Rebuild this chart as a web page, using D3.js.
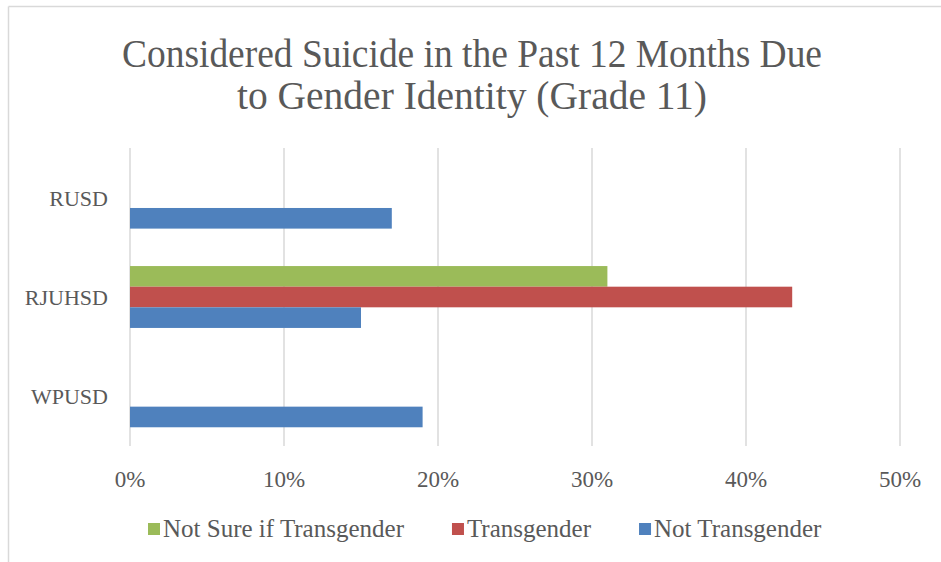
<!DOCTYPE html>
<html>
<head>
<meta charset="utf-8">
<script src="https://cdn.jsdelivr.net/npm/d3@7"></script>
<style>
  html, body { margin: 0; padding: 0; background: #fff; }
  svg { display: block; }
  text { font-family: "Liberation Serif", "DejaVu Serif", serif; fill: #595959; }
</style>
</head>
<body>
<svg id="chart" width="941" height="562"></svg>
<script>
// data
const districts = ['RUSD', 'RJUHSD', 'WPUSD'];
const seriesNames = ['Not Sure if Transgender', 'Transgender', 'Not Transgender'];
const notSure = [null, 31, null];
const transgender = [null, 43, null];
const notTransgender = [17, 15, 19];
const xTicks = [0, 10, 20, 30, 40, 50];
const titleLines = ['Considered Suicide in the Past 12 Months Due', 'to Gender Identity (Grade 11)'];

const colors = ['#9BBB59', '#C0504D', '#4F81BD'];
const values = [notSure, transgender, notTransgender];

const W = 941, H = 562;
const plot = { left: 130, right: 900, top: 148, bottom: 446 };

const svg = d3.select('#chart');

// outer chart frame (only top + left edges visible)
svg.append('line').attr('x1', 8.5).attr('x2', W).attr('y1', 6.5).attr('y2', 6.5)
  .attr('stroke', '#d9d9d9').attr('stroke-width', 1.5);
svg.append('line').attr('x1', 8.5).attr('x2', 8.5).attr('y1', 6.5).attr('y2', H)
  .attr('stroke', '#d9d9d9').attr('stroke-width', 1.5);

// title - the original face is a narrow serif, so squeeze to its width
const titleWidths = [700, 470];
svg.selectAll('text.title')
  .data(titleLines)
  .enter().append('text')
  .attr('class', 'title')
  .attr('x', 472)
  .attr('y', (d, i) => 67 + i * 42)
  .attr('text-anchor', 'middle')
  .attr('font-size', 41)
  .attr('textLength', (d, i) => titleWidths[i])
  .attr('lengthAdjust', 'spacingAndGlyphs')
  .text(d => d);

const x = d3.scaleLinear().domain([0, 50]).range([plot.left, plot.right]);

const y0 = d3.scaleBand()
  .domain(districts)
  .range([plot.top, plot.bottom])
  .paddingInner(0.377)
  .paddingOuter(0.377 / 2);

const y1 = d3.scaleBand()
  .domain(seriesNames)
  .range([0, y0.bandwidth()]);

// vertical gridlines
svg.append('g')
  .selectAll('line')
  .data(xTicks)
  .enter().append('line')
  .attr('x1', d => x(d)).attr('x2', d => x(d))
  .attr('y1', plot.top).attr('y2', plot.bottom)
  .attr('stroke', '#d9d9d9')
  .attr('stroke-width', 1.5);

// bars
const rows = [];
districts.forEach((dist, i) => {
  seriesNames.forEach((s, j) => {
    if (values[j][i] != null) rows.push({ dist, s, v: values[j][i], c: colors[j] });
  });
});

svg.append('g')
  .selectAll('rect')
  .data(rows)
  .enter().append('rect')
  .attr('x', x(0))
  .attr('y', d => y0(d.dist) + y1(d.s))
  .attr('width', d => x(d.v) - x(0))
  .attr('height', y1.bandwidth())
  .attr('fill', d => d.c);

// x tick labels
svg.append('g')
  .selectAll('text')
  .data(xTicks)
  .enter().append('text')
  .attr('x', d => x(d))
  .attr('y', 487)
  .attr('text-anchor', 'middle')
  .attr('font-size', 23)
  .text(d => d + '%');

// category labels
svg.append('g')
  .selectAll('text')
  .data(districts)
  .enter().append('text')
  .attr('x', 108)
  .attr('y', d => y0(d) + y0.bandwidth() / 2 + 8)
  .attr('text-anchor', 'end')
  .attr('font-size', 22)
  .text(d => d);

// legend
const legend = svg.append('g');
let lx = 148;
seriesNames.forEach((name, i) => {
  legend.append('rect')
    .attr('x', lx).attr('y', 523)
    .attr('width', 12).attr('height', 12)
    .attr('fill', colors[i]);
  const t = legend.append('text')
    .attr('x', lx + 15)
    .attr('y', 537)
    .attr('font-size', 25)
    .text(name);
  lx += 15 + t.node().getComputedTextLength() + 48;
});
</script>
</body>
</html>
